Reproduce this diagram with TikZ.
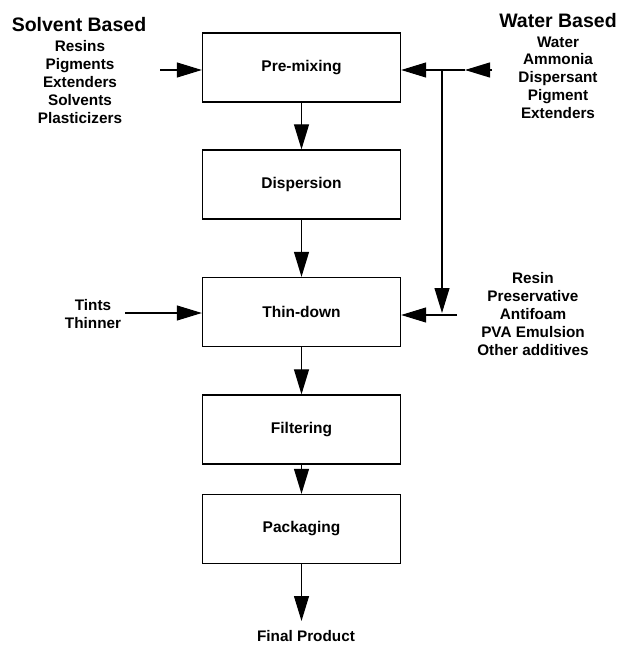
\documentclass[tikz,border=0pt]{standalone}
\usepackage{fontspec}
\setmainfont{Liberation Sans}
\usetikzlibrary{arrows.meta}
\begin{document}
\begin{tikzpicture}[x=1pt,y=-1pt,
  box/.style={draw, line width=1.3pt, minimum width=198pt, minimum height=69pt, inner sep=0pt,
    font=\fontsize{15.5}{18}\selectfont\bfseries},
  head/.style={inner sep=0pt, font=\fontsize{19.5}{22}\selectfont\bfseries},
  items/.style={inner sep=0pt, align=center, font=\fontsize{15.3}{17.8}\selectfont\bfseries},
  arr/.style={-{Triangle[length=25pt,width=15pt]}, line width=1.1pt}]
\useasboundingbox (0,0) rectangle (620,647);
% process boxes
\node[box] (pre)  at (301.5,67.5)  {Pre-mixing};
\node[box] (dis)  at (301.5,184.5) {Dispersion};
\node[box] (thin) at (301.5,312)   {Thin-down};
\node[box] (fil)  at (301.5,429.5) {Filtering};
\node[box] (pack) at (301.5,529)   {Packaging};
% texts
\node[head] (sb) at (79,25) {Solvent Based};
\node[items] (sitems) at (80,82) {Resins\\Pigments\\Extenders\\Solvents\\Plasticizers};
\node[head] (wb) at (558,21) {Water Based};
\node[items] (witems) at (558,77.5) {Water\\Ammonia\\Dispersant\\Pigment\\Extenders};
\node[items] (ritems) at (533,314) {Resin\\Preservative\\Antifoam\\PVA Emulsion\\Other additives};
\node[items] (titems) at (93,314) {Tints\\Thinner};
\node[items] (final) at (306,636) {Final Product};
% coordinates
\coordinate (sin) at (160,70);
\coordinate (win) at (492,70);
\coordinate (wmid) at (465,70);
\coordinate (wj) at (442,70);
\coordinate (rj) at (442,313);
\coordinate (rin) at (457,315);
\coordinate (tin) at (125,313);
\coordinate (fp) at (301.5,621);
% main flow
\draw[arr] (pre.south) -- (dis.north);
\draw[arr] (dis.south) -- (thin.north);
\draw[arr] (thin.south) -- (fil.north);
\draw[arr] (fil.south) -- (pack.north);
\draw[arr] (pack.south) -- (fp);
% inputs
\draw[arr] (sin) -- (sin -| pre.west);
\draw[arr] (win) -- (wmid);
\draw[arr] (wmid) -- (wmid -| pre.east);
\draw[arr] (wj) -- (rj);
\draw[arr] (rin) -- (rin -| thin.east);
\draw[arr] (tin) -- (tin -| thin.west);
\end{tikzpicture}
\end{document}
